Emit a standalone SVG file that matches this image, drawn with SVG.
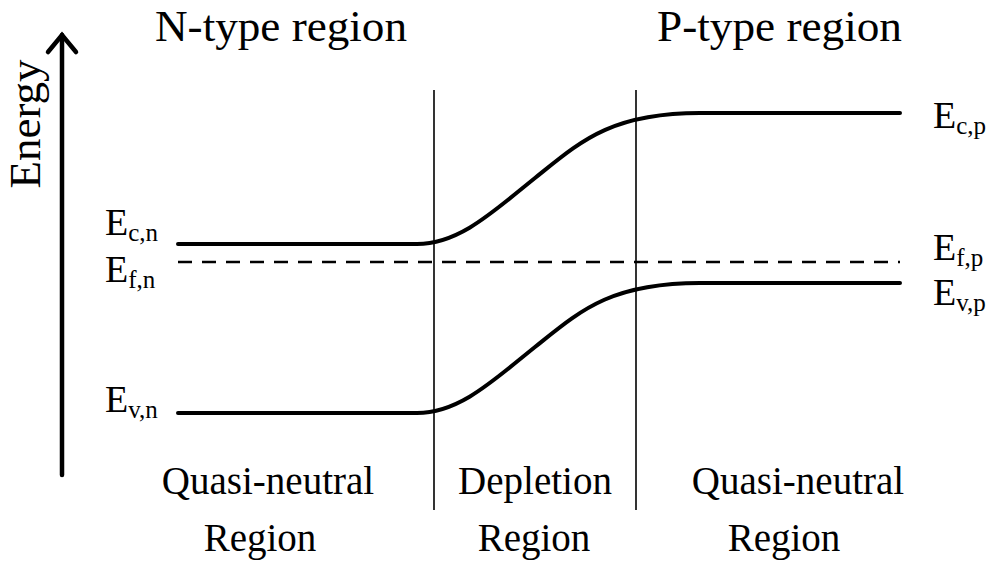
<svg xmlns="http://www.w3.org/2000/svg" width="988" height="561" viewBox="0 0 988 561">
<style>
text{font-family:"Liberation Serif","Times New Roman",serif;fill:#000}
.t{font-size:44px}
.e{font-size:38px}
.s{font-size:25px}
.b{font-size:39px}
.band{fill:none;stroke:#000;stroke-width:4;stroke-linecap:round}
.div{stroke:#000;stroke-width:1.6}
</style>
<rect width="988" height="561" fill="#fff"/>
<g id="axis">
<line x1="62" y1="475" x2="62" y2="35" stroke="#000" stroke-width="4.5" stroke-linecap="round"/>
<polyline points="48,52 62,35 76,52" fill="none" stroke="#000" stroke-width="4.5" stroke-linecap="round" stroke-linejoin="miter"/>
<text transform="translate(40,124) rotate(-90)" text-anchor="middle" style="font-size:45px">Energy</text>
</g>
<g id="titles">
<text class="t" x="155" y="41" textLength="252" lengthAdjust="spacingAndGlyphs">N-type region</text>
<text class="t" x="657" y="41" textLength="245" lengthAdjust="spacingAndGlyphs">P-type region</text>
</g>
<g id="dividers">
<line class="div" x1="434" y1="90" x2="434" y2="510"/>
<line class="div" x1="636" y1="90" x2="636" y2="510"/>
</g>
<g id="connectors">
<path id="ec" class="band" d="M178,244 H417 C460,244 495,210 535,178 C580,142 610,113 700,113 H900"/>
<path id="ev" class="band" d="M178,413 H417 C460,413 495,379 535,347 C580,311 610,283 700,283 H900"/>
<line id="ef" x1="178" y1="262" x2="900" y2="262" stroke="#000" stroke-width="2.5" stroke-dasharray="14,10"/>
</g>
<g id="labels-n">
<text class="e" x="105" y="235">E<tspan class="s" dy="6">c,n</tspan></text>
<text class="e" x="105" y="282">E<tspan class="s" dy="6">f,n</tspan></text>
<text class="e" x="105" y="412">E<tspan class="s" dy="6">v,n</tspan></text>
</g>
<g id="labels-p">
<text class="e" x="933" y="128">E<tspan class="s" dy="6">c,p</tspan></text>
<text class="e" x="933" y="260">E<tspan class="s" dy="6">f,p</tspan></text>
<text class="e" x="933" y="305">E<tspan class="s" dy="6">v,p</tspan></text>
</g>
<g id="regions">
<text class="b" x="268" y="494" text-anchor="middle">Quasi-neutral</text>
<text class="b" x="260" y="551" text-anchor="middle">Region</text>
<text class="b" x="535" y="494" text-anchor="middle">Depletion</text>
<text class="b" x="534" y="551" text-anchor="middle">Region</text>
<text class="b" x="798" y="494" text-anchor="middle">Quasi-neutral</text>
<text class="b" x="784" y="551" text-anchor="middle">Region</text>
</g>
</svg>
